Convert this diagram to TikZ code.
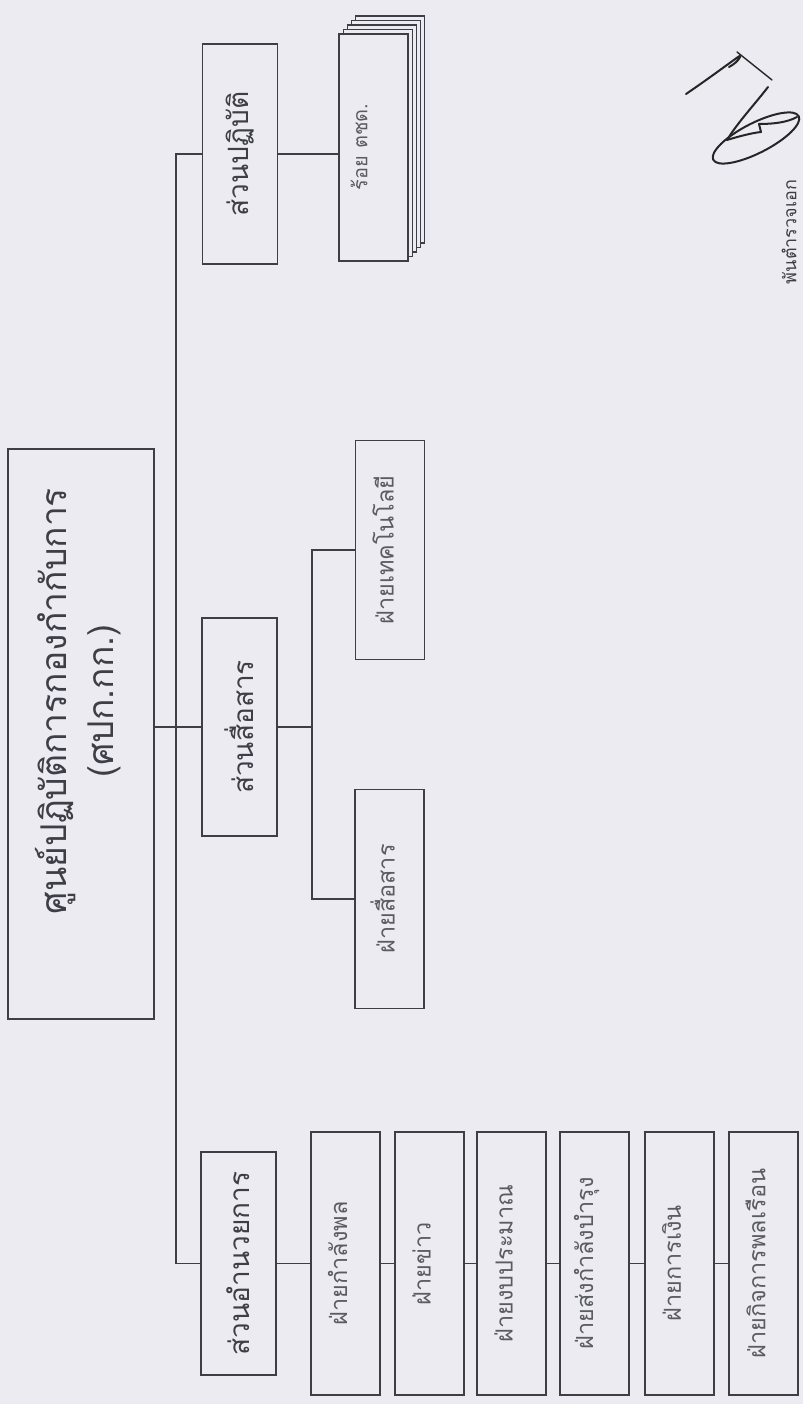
\documentclass[tikz,border=0pt]{standalone}
\usepackage{fontspec}
\usepackage{graphicx}
\newfontfamily\thaifont[Script=Thai]{Loma}
\definecolor{paper}{RGB}{236,235,242}
\definecolor{ink}{RGB}{62,62,70}
\newcommand{\up}[2][0pt]{\rotatebox{90}{\raisebox{#1}[\height][\depth]{#2}}}
\tikzset{
	unit/.style={draw=ink, line width=1.1pt, inner sep=0pt, text=ink},
	headbox/.style={unit, font=\thaifont\fontsize{35.5}{47}\selectfont},
	sectbox/.style={unit, minimum width=75pt, font=\thaifont\fontsize{28}{34}\selectfont},
	subbox/.style={unit, minimum width=69pt, font=\thaifont\fontsize{23.5}{28}\selectfont, text=ink!85},
	link/.style={draw=ink, line width=1.1pt},
	sig/.style={draw=black!85, line width=2pt, line cap=round, line join=round},
}
\begin{document}
\begin{tikzpicture}[x=1pt, y=-1pt]
	\useasboundingbox[fill=paper] (0,0) rectangle (803,1404);

	\node[headbox, minimum width=146pt, minimum height=570pt] at (81,734) (top) {\up{\hspace*{66pt}\begin{tabular}{@{}c@{}}ศูนย์ปฏิบัติการกองกำกับการ\\(ศปก.กก.)\end{tabular}}};

	\node[sectbox, minimum height=220pt] at (240,154) (ops) {\up{ส่วนปฏิบัติ}};
	\node[sectbox, minimum height=218pt] at (239.5,727) (comm) {\up{ส่วนสื่อสาร}};
	\node[sectbox, minimum height=223pt] at (238.5,1263.5) (admin) {\up{ส่วนอำนวยการ}};

	\foreach \k in {4,3,2,1}
		\node[subbox, fill=paper, minimum height=227pt] at (373.5+4.2*\k,147.5-4.5*\k) (layer\k) {};
	\node[subbox, fill=paper, minimum height=227pt] at (373.5,147.5) (rtd) {};
	\node[font=\thaifont\fontsize{20}{24}\selectfont, text=ink!85] at (359,147) (rtdlabel) {\up{ร้อย ตชด.}};

	\node[subbox, minimum height=219pt] at (390,550) (tech) {\up[7pt]{ฝ่ายเทคโนโลยี}};
	\node[subbox, minimum height=219pt] at (389.5,899) (commdiv) {\up[7pt]{ฝ่ายสื่อสาร}};

	\node[subbox, minimum height=263pt] at (345.5,1263.5) (d1) {\up[8pt]{ฝ่ายกำลังพล}};
	\node[subbox, minimum height=263pt] at (429.5,1263.5) (d2) {\up[8pt]{ฝ่ายข่าว}};
	\node[subbox, minimum height=263pt] at (511.5,1263.5) (d3) {\up[8pt]{ฝ่ายงบประมาณ}};
	\node[subbox, minimum height=263pt] at (594.5,1263.5) (d4) {\up[8pt]{ฝ่ายส่งกำลังบำรุง}};
	\node[subbox, minimum height=263pt] at (679.5,1263.5) (d5) {\up[8pt]{ฝ่ายการเงิน}};
	\node[subbox, minimum height=263pt] at (763.5,1263.5) (d6) {\up[8pt]{ฝ่ายกิจการพลเรือน}};

	\coordinate (spine) at (176,0);
	\coordinate (cspine) at (312,0);

	\draw[link] (ops.west) -- (ops.west -| spine) -- (admin.west -| spine) -- (admin.west);
	\path[link] (top.east |- comm.west) edge (comm.west)
		(ops.east) edge (ops.east -| rtd.west)
		(comm.east) edge (comm.east -| cspine);
	\draw[link] (tech.west) -- (tech.west -| cspine) -- (commdiv.west -| cspine) -- (commdiv.west);
	\path[link] (admin.east) edge (d1.west)
		(d1.east) edge (d2.west)
		(d2.east) edge (d3.west)
		(d3.east) edge (d4.west)
		(d4.east) edge (d5.west)
		(d5.east) edge (d6.west);

	\node[font=\thaifont\fontsize{18}{22}\selectfont, text=ink] at (789,232) (rank) {\up{พันตำรวจเอก}};

	\draw[sig] (686,94) .. controls (708,79) and (724,67) .. (738,57) .. controls (743,53) and (739,62) .. (729,67);
	\draw[sig, line width=1.4pt] (737,52) -- (772,80);
	\draw[sig] (768,87) .. controls (755,104) and (738,122) .. (727,140) .. controls (740,136) and (752,133) .. (761,132) -- (759,124) .. controls (775,124) and (788,122) .. (797,117);
	\draw[sig, rotate around={27:(756,138)}] (756,138) ellipse [x radius=48, y radius=15];
\end{tikzpicture}
\end{document}
